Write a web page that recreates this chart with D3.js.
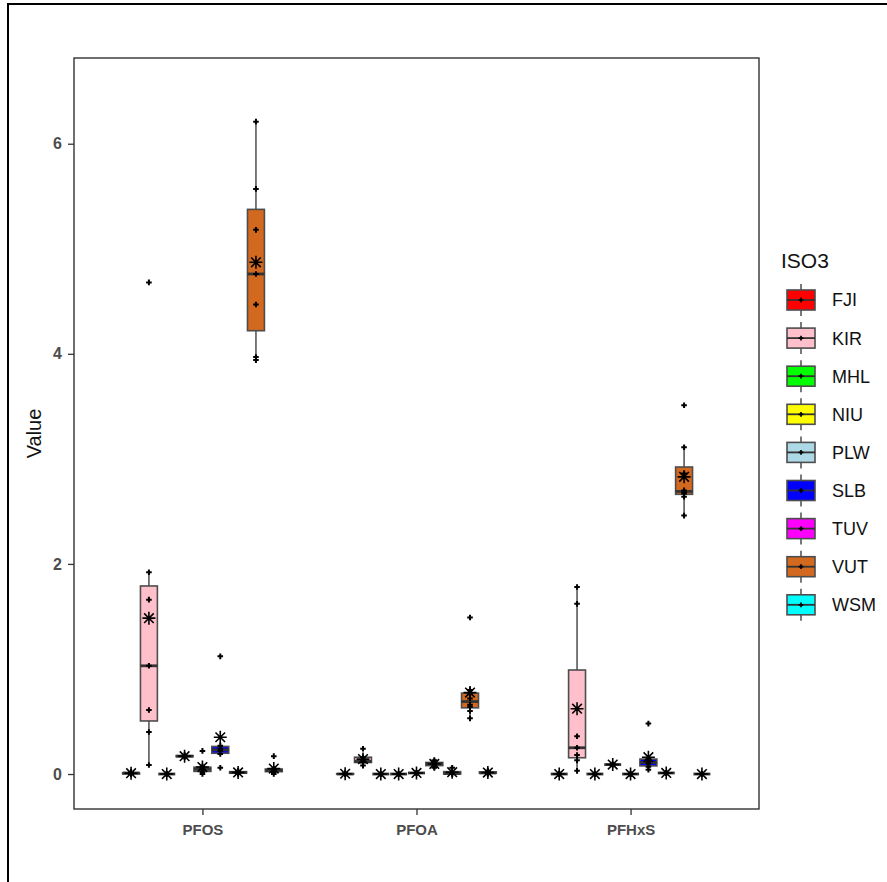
<!DOCTYPE html>
<html>
<head>
<meta charset="utf-8">
<script src="https://cdn.jsdelivr.net/npm/d3@7"></script>
<style>
  html, body { margin: 0; padding: 0; background: #fff; }
  svg { display: block; }
</style>
</head>
<body>
<svg id="chart" width="887" height="882"></svg>
<script>
// ---------------- data ----------------
const categories = ["PFOS", "PFOA", "PFHxS"];
const isoCodes = ["FJI", "KIR", "MHL", "NIU", "PLW", "SLB", "TUV", "VUT", "WSM"];
const isoColors = ["#FF0000", "#FFC0CB", "#00FF00", "#FFFF00", "#ADD8E6", "#0000FF", "#FF00FF", "#D2691E", "#00FFFF"];

// values per ISO3 (same order as isoCodes) for each compound
const pfosValues = [
  [0, 0.01, 0, 0.02, 0.01],
  [4.68, 1.92, 1.66, 1.03, 0.61, 0.40, 0.086],
  [0, 0, 0, 0],
  [0.16, 0.17, 0.18],
  [0.22, 0.07, 0.05, 0.04, 0.02, 0],
  [1.12, 0.27, 0.24, 0.22, 0.19, 0.06],
  [0.03, 0.02, 0.01, 0],
  [6.21, 5.57, 5.18, 4.76, 4.47, 3.97, 3.94],
  [0.17, 0.05, 0.04, 0.03, 0.02, 0]
];
const pfoaValues = [
  [0, 0, 0.01, 0],
  [0.24, 0.16, 0.12, 0.11, 0.08],
  [0, 0, 0],
  [0, 0, 0],
  [0.01, 0.01, 0.01],
  [0.13, 0.11, 0.10, 0.08, 0.06],
  [0.06, 0, 0, 0.01],
  [1.49, 0.80, 0.76, 0.72, 0.66, 0.64, 0.60, 0.53],
  [0.03, 0.02, 0.01, 0.01, 0]
];
const pfhxsValues = [
  [0, 0, 0],
  [1.78, 1.62, 0.36, 0.25, 0.18, 0.13, 0.03],
  [0, 0, 0],
  [0.09, 0.09, 0.09],
  [0, 0, 0],
  [0.48, 0.15, 0.12, 0.10, 0.07, 0.04],
  [0.01, 0.01, 0.01],
  [3.51, 3.11, 2.86, 2.70, 2.68, 2.67, 2.64, 2.46],
  [0, 0, 0]
];
const valuesByCategory = [pfosValues, pfoaValues, pfhxsValues];
const yTicks = [0, 2, 4, 6];
const yDomain = [-0.333, 6.816];

// ---------------- layout ----------------
const svg = d3.select("#chart");
const panel = { left: 74, right: 759, top: 58, bottom: 809 };

const x = d3.scalePoint().domain(categories).range([panel.left, panel.right]).padding(0.6);
const step = x.step();
const xDodge = d3.scaleBand().domain(isoCodes).range([-0.375 * step, 0.375 * step]);
const boxW = xDodge.bandwidth() * 0.95;
const y = d3.scaleLinear().domain(yDomain).range([panel.bottom, panel.top]);
const color = d3.scaleOrdinal().domain(isoCodes).range(isoColors);

// outer frame (left and top edges of the screenshot)
svg.append("line").attr("x1", 8).attr("x2", 8).attr("y1", 4).attr("y2", 882)
  .attr("stroke", "#000").attr("stroke-width", 2);
svg.append("line").attr("x1", 7).attr("x2", 887).attr("y1", 4).attr("y2", 4)
  .attr("stroke", "#000").attr("stroke-width", 2);

// stats
function stats(vals) {
  const s = vals.slice().sort(d3.ascending);
  const q1 = d3.quantile(s, 0.25), med = d3.quantile(s, 0.5), q3 = d3.quantile(s, 0.75);
  const iqr = q3 - q1;
  const lo = d3.min(s.filter(v => v >= q1 - 1.5 * iqr));
  const hi = d3.max(s.filter(v => v <= q3 + 1.5 * iqr));
  return { q1, med, q3, lo, hi, mean: d3.mean(s) };
}

const groups = [];
categories.forEach((cat, ci) => {
  isoCodes.forEach((iso, ii) => {
    const vals = valuesByCategory[ci][ii];
    groups.push({ cat, iso, vals, cx: x(cat) + xDodge(iso) + xDodge.bandwidth() / 2, ...stats(vals) });
  });
});

const plot = svg.append("g");
const boxStroke = "#4D4D4D";

// boxplots
const gb = plot.selectAll("g.box").data(groups).join("g").attr("class", "box");
gb.append("line")
  .attr("x1", d => d.cx).attr("x2", d => d.cx)
  .attr("y1", d => y(d.hi)).attr("y2", d => y(d.q3))
  .attr("stroke", boxStroke).attr("stroke-width", 1.5);
gb.append("line")
  .attr("x1", d => d.cx).attr("x2", d => d.cx)
  .attr("y1", d => y(d.q1)).attr("y2", d => y(d.lo))
  .attr("stroke", boxStroke).attr("stroke-width", 1.5);
gb.append("rect")
  .attr("x", d => d.cx - boxW / 2).attr("width", boxW)
  .attr("y", d => y(d.q3)).attr("height", d => Math.max(0, y(d.q1) - y(d.q3)))
  .attr("fill", d => color(d.iso)).attr("stroke", boxStroke).attr("stroke-width", 1.6);
gb.append("line")
  .attr("x1", d => d.cx - boxW / 2).attr("x2", d => d.cx + boxW / 2)
  .attr("y1", d => y(d.med)).attr("y2", d => y(d.med))
  .attr("stroke", "#333").attr("stroke-width", 2.8);

// jittered raw points (small "+")
const plusPath = r => `M${-r},0H${r}M0,${-r}V${r}`;
const pts = [];
groups.forEach(g => g.vals.forEach(v => pts.push({ cx: g.cx, v })));
plot.selectAll("path.pt").data(pts).join("path").attr("class", "pt")
  .attr("transform", d => `translate(${d.cx},${y(d.v)})`)
  .attr("d", plusPath(2.8))
  .attr("stroke", "#000").attr("stroke-width", 2).attr("fill", "none");

// mean (asterisk)
const starPath = (r, k) => `M${-r},0H${r}M0,${-r}V${r}M${-k},${-k}L${k},${k}M${-k},${k}L${k},${-k}`;
plot.selectAll("path.mean").data(groups).join("path").attr("class", "mean")
  .attr("transform", d => `translate(${d.cx},${y(d.mean)})`)
  .attr("d", starPath(6.5, 4.8))
  .attr("stroke", "#000").attr("stroke-width", 1.6).attr("fill", "none");

// panel border
svg.append("rect")
  .attr("x", panel.left).attr("y", panel.top)
  .attr("width", panel.right - panel.left).attr("height", panel.bottom - panel.top)
  .attr("fill", "none").attr("stroke", "#333").attr("stroke-width", 1.4);

// y axis
const yAxis = svg.append("g").attr("transform", `translate(${panel.left},0)`)
  .call(d3.axisLeft(y).tickValues(yTicks).tickSize(6).tickPadding(6).tickFormat(d3.format("d")));
yAxis.select(".domain").remove();
yAxis.selectAll(".tick line").attr("stroke", "#333").attr("stroke-width", 1.3);
yAxis.selectAll(".tick text")
  .attr("fill", "#4D4D4D").attr("font-family", "Arial, 'Liberation Sans', sans-serif")
  .attr("font-size", 16).attr("font-weight", "bold");

// x axis
const xAxis = svg.append("g").attr("transform", `translate(0,${panel.bottom})`)
  .call(d3.axisBottom(x).tickSize(6).tickPadding(9));
xAxis.select(".domain").remove();
xAxis.selectAll(".tick line").attr("stroke", "#333").attr("stroke-width", 1.3);
xAxis.selectAll(".tick text")
  .attr("fill", "#4D4D4D").attr("font-family", "Arial, 'Liberation Sans', sans-serif")
  .attr("font-size", 15).attr("font-weight", "bold");

// y title
svg.append("text")
  .attr("transform", `translate(41,${(panel.top + panel.bottom) / 2}) rotate(-90)`)
  .attr("text-anchor", "middle")
  .attr("font-family", "Arial, 'Liberation Sans', sans-serif")
  .attr("font-size", 20).attr("fill", "#111").text("Value");

// legend
const legend = svg.append("g");
legend.append("text").attr("x", 781).attr("y", 268)
  .attr("font-family", "Arial, 'Liberation Sans', sans-serif")
  .attr("font-size", 21).attr("fill", "#111").text("ISO3");
const lk = legend.selectAll("g.key").data(isoCodes).join("g").attr("class", "key")
  .attr("transform", (d, i) => `translate(801,${300 + i * 38.1})`);
lk.append("line").attr("x1", 0).attr("x2", 0).attr("y1", -16).attr("y2", 16)
  .attr("stroke", boxStroke).attr("stroke-width", 1.5);
lk.append("rect").attr("x", -14).attr("y", -10).attr("width", 28).attr("height", 20)
  .attr("fill", d => color(d)).attr("stroke", boxStroke).attr("stroke-width", 1.6);
lk.append("line").attr("x1", -14).attr("x2", 14).attr("y1", 0).attr("y2", 0)
  .attr("stroke", "#333").attr("stroke-width", 1.8);
lk.append("path").attr("d", plusPath(2.4)).attr("stroke", "#000").attr("stroke-width", 1.7);
lk.append("text").attr("x", 31).attr("y", 0).attr("dy", "0.36em")
  .attr("font-family", "Arial, 'Liberation Sans', sans-serif")
  .attr("font-size", 18).attr("fill", "#111").text(d => d);
</script>
</body>
</html>
